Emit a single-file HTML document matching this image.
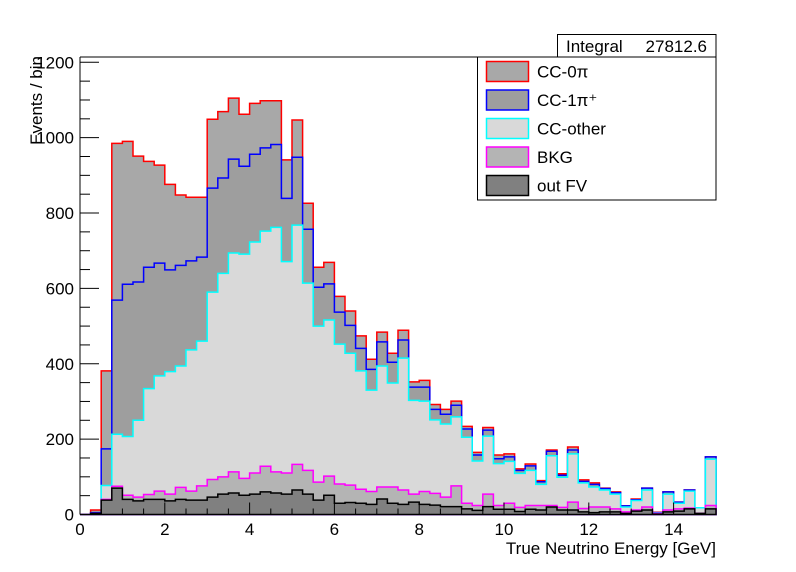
<!DOCTYPE html>
<html><head><meta charset="utf-8">
<style>
html,body{margin:0;padding:0;background:#fff;}
svg{display:block;font-family:"Liberation Sans",Arial,sans-serif;}
</style></head>
<body>
<svg id="chart" width="796" height="572" viewBox="0 0 796 572" xmlns="http://www.w3.org/2000/svg">
<g id="bars"></g>
<g id="axes"></g>
<g>
<rect x="557.5" y="34.5" width="158.5" height="22.5" fill="#fff" stroke="#000" stroke-width="1"/>
<text x="566" y="52" font-size="17">Integral</text>
<text x="707" y="52" font-size="17" text-anchor="end">27812.6</text>
</g>
<g id="legend">
<rect x="477.5" y="57" width="238.5" height="143" fill="#fff" stroke="#000" stroke-width="1"/>
</g>
<text x="716" y="554" font-size="17" text-anchor="end">True Neutrino Energy [GeV]</text>
<text transform="translate(42,56) rotate(-90)" font-size="17" text-anchor="end">Events / bin</text>
</svg>
<script>
const binLow = 0, binWidth = 0.25;
const outFV = [0,3,38,70,40,36,40,40,36,40,38,38,46,54,57,51,54,60,57,54,65,54,38,51,30,32,30,27,41,30,27,33,27,25,21,21,15,11,21,14,14,8,14,12,20,12,12,7,5,7,7,3,9,12,1,7,9,15,3,15];
const bkg = [0,0,2,5,11,10,13,22,18,32,24,38,47,46,56,45,56,68,56,56,68,63,48,51,51,46,37,34,32,43,38,21,34,31,25,55,15,13,33,10,16,11,10,12,4,7,21,9,15,13,8,4,3,8,2,5,6,2,0,9];
const ccOther = [0,0,37,138,156,204,281,306,325,322,375,384,497,540,581,595,613,624,649,561,635,497,414,414,371,350,314,269,321,276,350,249,240,195,194,183,175,118,154,111,111,90,93,56,132,80,128,68,53,45,39,13,25,45,1,42,15,45,15,123];
const cc1pi = [0,2,97,356,404,367,322,299,270,267,236,223,276,253,249,233,233,221,220,168,180,143,103,96,85,74,60,55,64,55,48,35,37,28,26,31,22,16,16,13,12,8,12,7,12,5,10,4,7,4,4,3,2,5,1,6,3,3,0,6];
const cc0pi = [0,7,207,416,379,334,281,260,227,187,169,159,183,176,162,138,135,125,116,102,99,69,53,57,42,38,33,27,26,24,26,14,18,13,13,11,7,7,7,10,8,4,5,3,3,4,8,4,4,1,2,0,2,0,1,0,0,0,0,0];
const seriesNames = ["out FV","BKG","CC-other","CC-1π⁺","CC-0π"];
const xTickLabels = ["0","2","4","6","8","10","12","14"];
const yTickLabels = ["0","200","400","600","800","1000","1200"];

const X0=80, X1=716, Y0=514.5, YT=57;
const xMin=0, xMax=15, yMin=0, yMax=1200;
const yTopPx = 62.3;
function xs(v){return X0+(v-xMin)/(xMax-xMin)*(X1-X0);}
function ys(v){return Y0-(v-yMin)/(yMax-yMin)*(Y0-yTopPx);}
const NS="http://www.w3.org/2000/svg";
function mk(tag,attrs,parent){const e=document.createElementNS(NS,tag);for(const k in attrs)e.setAttribute(k,attrs[k]);parent.appendChild(e);return e;}

const layers=[outFV,bkg,ccOther,cc1pi,cc0pi];
const cols=["#000","#f0f","#0ff","#00f","#f00"];
const fills=["#808080","#b4b4b4","#d9d9d9","#9e9e9e","#a8a8a8"];
const keys=["out-fv","bkg","cc-other","cc-1pi","cc-0pi"];
const n=outFV.length;
const cum=[];
for(let l=0;l<layers.length;l++){cum.push([]);for(let i=0;i<n;i++){cum[l].push((l?cum[l-1][i]:0)+layers[l][i]);}}
const gb=document.getElementById('bars');
for(let l=layers.length-1;l>=0;l--){
  let d="M"+xs(binLow)+","+ys(0);
  for(let i=0;i<n;i++){
    const a=xs(binLow+i*binWidth), b=xs(binLow+(i+1)*binWidth), y=ys(Math.min(cum[l][i],yMax));
    d+=" L"+a+","+y+" L"+b+","+y;
  }
  d+=" L"+xs(binLow+n*binWidth)+","+ys(0)+" Z";
  const p=mk('path',{d:d,fill:fills[l],stroke:cols[l],"stroke-width":1.5},gb);
  
  
}
const ga=document.getElementById('axes');
let ax=mk('line',{x1:X0,y1:YT,x2:X0,y2:Y0,stroke:"#000","stroke-width":1},ga);


ax=mk('line',{x1:X0,y1:Y0,x2:X1,y2:Y0,stroke:"#000","stroke-width":1},ga);


mk('line',{x1:X0,y1:YT,x2:X1,y2:YT,stroke:"#000","stroke-width":1},ga);
for(let v=0;v<=15.001;v+=0.5){
  const major=Math.abs(v/2-Math.round(v/2))<1e-6;
  mk('line',{x1:xs(v),y1:Y0,x2:xs(v),y2:Y0-(major?12:6),stroke:"#000","stroke-width":1},ga);
}
xTickLabels.forEach(function(s){
  const t=mk('text',{x:xs(parseFloat(s)),y:535,"font-size":17,"text-anchor":"middle"},ga);
  t.textContent=s;
  
  
});
for(let v=0;v<=1200;v+=50){
  const major=v%200===0;
  mk('line',{x1:X0,y1:ys(v),x2:X0+(major?19:10),y2:ys(v),stroke:"#000","stroke-width":1},ga);
}
yTickLabels.forEach(function(s){
  const t=mk('text',{x:74,y:ys(parseFloat(s))+6,"font-size":17,"text-anchor":"end"},ga);
  t.textContent=s;
  
  
});
const gl=document.getElementById('legend');
for(let k=0;k<5;k++){
  const l=4-k, cy=71.5+k*28.5;
  const r=mk('rect',{x:486.5,y:cy-10,width:42,height:20,fill:fills[l],stroke:cols[l],"stroke-width":1.5},gl);
  
  
  const t=mk('text',{x:537,y:cy+6,"font-size":17},gl);
  t.textContent=seriesNames[l];
  
  
}
</script>
</body></html>
